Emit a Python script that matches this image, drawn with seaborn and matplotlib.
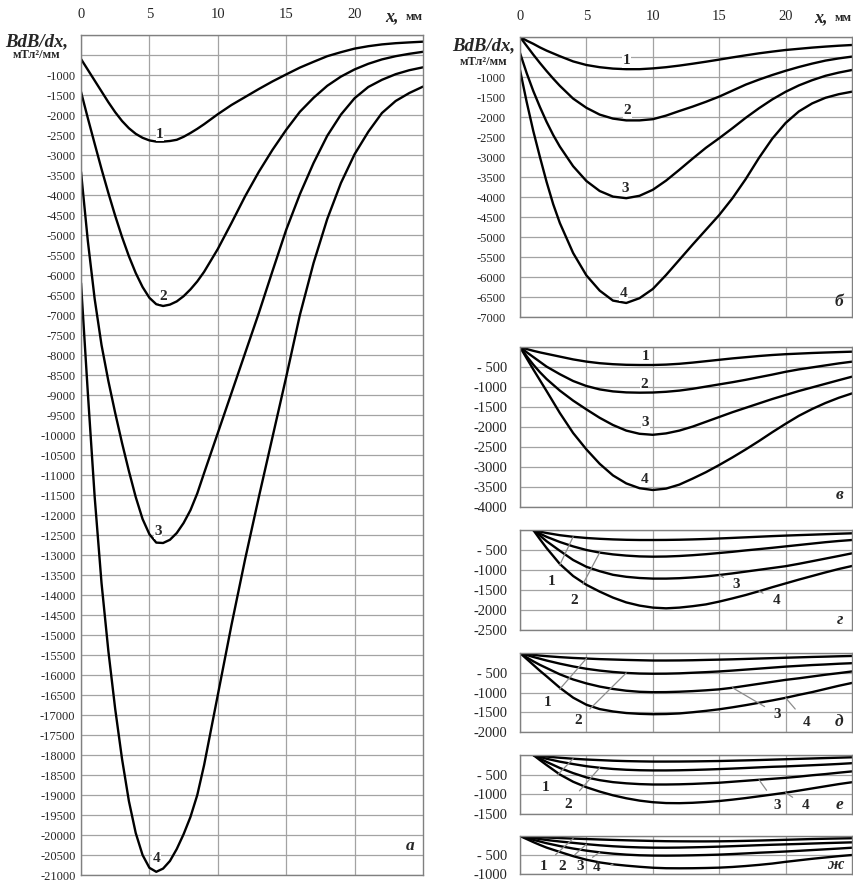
import numpy as np
import pandas as pd
import matplotlib.pyplot as plt
import seaborn as sns

W, H = 854, 882

# ---- panel а ----
x_a = [0, 0.5, 1, 1.5, 2, 2.5, 3, 3.5, 4, 4.5, 5, 5.5, 6, 6.5, 7, 7.5, 8, 8.5, 9,
       10, 11, 12, 13, 14, 15, 16, 17, 18, 19, 20, 21, 22, 23, 24, 25]
a1 = [-600, -870, -1140, -1410, -1680, -1930, -2150, -2330, -2470, -2570, -2635,
      -2665, -2665, -2650, -2620, -2545, -2450, -2345, -2230, -1980, -1750, -1550,
      -1350, -1160, -985, -815, -670, -530, -430, -340, -280, -235, -205, -185, -167]
a2 = [-1420, -2080, -2720, -3350, -3950, -4520, -5050, -5530, -5950, -6300, -6570,
      -6730, -6775, -6740, -6660, -6530, -6360, -6160, -5920, -5350, -4700, -4030,
      -3420, -2870, -2370, -1920, -1570, -1270, -1040, -860, -720, -610, -530, -470,
      -420]
a3 = [-3420, -5150, -6600, -7750, -8650, -9450, -10200, -10900, -11550, -12100,
      -12480, -12690, -12700, -12620, -12450, -12200, -11880, -11460, -10950, -9950,
      -8950, -7950, -6950, -5900, -4870, -3980, -3200, -2520, -1990, -1580, -1300,
      -1120, -980, -880, -808]
a4 = [-6200, -8950, -11550, -13700, -15400, -16850, -18100, -19150, -19950, -20500,
      -20820, -20920, -20840, -20650, -20350, -19980, -19550, -19000, -18250, -16500,
      -14750, -13100, -11550, -10050, -8550, -7000, -5700, -4600, -3700, -2980,
      -2420, -1950, -1650, -1450, -1290]

# ---- panel б ----
x_b = [0, 0.5, 1, 1.5, 2, 2.5, 3, 4, 5, 6, 7, 8, 9, 10, 11, 12, 13, 14, 15,
       16, 17, 18, 19, 20, 21, 22, 23, 24, 25]
b1 = [0, -90, -170, -260, -340, -410, -480, -610, -700, -755, -790, -805, -805,
      -785, -755, -715, -668, -618, -565, -510, -458, -408, -365, -325, -295, -265,
      -240, -218, -200]
b2 = [0, -220, -440, -650, -850, -1040, -1220, -1540, -1770, -1940, -2040, -2085,
      -2085, -2055, -1965, -1850, -1740, -1620, -1490, -1340, -1190, -1065, -950,
      -845, -750, -665, -590, -535, -490]
b3 = [-400, -900, -1350, -1750, -2120, -2450, -2740, -3230, -3600, -3850, -3990,
      -4030, -3970, -3820, -3590, -3320, -3040, -2770, -2530, -2280, -2020, -1780,
      -1560, -1370, -1210, -1080, -970, -890, -825]
b4 = [-825, -1620, -2350, -3000, -3620, -4180, -4650, -5400, -5960, -6340, -6590,
      -6650, -6530, -6300, -5950, -5570, -5190, -4820, -4450, -4030, -3550, -3020,
      -2540, -2150, -1860, -1660, -1520, -1430, -1367]

# ---- panels в, д, ж share this x grid ----
x_v = [0, 0.5, 1, 1.5, 2, 3, 4, 5, 6, 7, 8, 9, 10, 11, 12, 13, 14, 15, 16, 17,
       18, 19, 20, 21, 22, 23, 24, 25]
v1 = [0, -50, -95, -135, -170, -240, -310, -365, -405, -430, -445, -450, -450,
      -440, -420, -390, -355, -320, -285, -255, -225, -200, -180, -165, -150, -138,
      -127, -117]
v2 = [0, -130, -250, -370, -490, -680, -850, -975, -1060, -1110, -1135, -1142,
      -1138, -1120, -1090, -1045, -990, -935, -880, -820, -755, -690, -620, -560,
      -510, -460, -410, -367]
v3 = [0, -230, -440, -630, -800, -1090, -1340, -1560, -1770, -1950, -2090, -2170,
      -2195, -2160, -2090, -1990, -1870, -1750, -1630, -1520, -1410, -1300, -1200,
      -1100, -1010, -920, -830, -742]
v4 = [0, -280, -560, -830, -1100, -1650, -2150, -2560, -2920, -3210, -3410, -3530,
      -3575, -3540, -3440, -3290, -3130, -2950, -2760, -2560, -2350, -2130, -1920,
      -1720, -1550, -1400, -1270, -1160]

# ---- panels г, е start at x = 1 ----
x_g = [1, 1.5, 2, 3, 4, 5, 6, 7, 8, 9, 10, 11, 12, 13, 14, 15, 16, 17, 18, 19,
       20, 21, 22, 23, 24, 25]
g1 = [0, -40, -75, -130, -170, -200, -220, -235, -245, -250, -250, -248, -243,
      -235, -225, -212, -198, -183, -168, -153, -140, -128, -117, -105, -93, -83]
g2 = [0, -90, -170, -300, -410, -500, -565, -610, -640, -660, -667, -663, -650,
      -630, -605, -575, -545, -510, -478, -445, -410, -375, -340, -305, -275, -250]
g3 = [0, -140, -280, -520, -750, -920, -1030, -1120, -1170, -1200, -1215, -1215,
      -1205, -1185, -1160, -1125, -1085, -1040, -995, -950, -905, -845, -780, -715,
      -650, -583]
g4 = [0, -230, -450, -850, -1150, -1370, -1540, -1690, -1810, -1890, -1940, -1958,
      -1940, -1905, -1860, -1790, -1710, -1625, -1530, -1430, -1335, -1240, -1150,
      -1060, -975, -900]

d1 = [0, -25, -45, -65, -80, -105, -125, -140, -155, -165, -175, -183, -190, -190,
      -188, -183, -175, -168, -160, -150, -140, -130, -120, -110, -100, -92, -83, -75]
d2 = [0, -50, -100, -145, -190, -270, -340, -400, -445, -480, -505, -520, -525,
      -523, -515, -500, -485, -467, -445, -420, -395, -370, -345, -325, -305, -290,
      -272, -258]
d3 = [0, -110, -210, -300, -380, -540, -670, -770, -850, -910, -955, -982, -992,
      -990, -980, -965, -945, -920, -880, -830, -780, -730, -680, -640, -595, -550,
      -510, -467]
d4 = [0, -150, -300, -450, -590, -880, -1130, -1310, -1420, -1480, -1520, -1540,
      -1550, -1545, -1530, -1500, -1465, -1425, -1375, -1320, -1260, -1200, -1135,
      -1060, -990, -910, -830, -758]

e1 = [0, -20, -40, -70, -95, -115, -130, -145, -155, -162, -167, -167, -166, -163,
      -158, -153, -145, -137, -128, -118, -108, -98, -88, -78, -68, -58]
e2 = [0, -50, -95, -170, -230, -285, -325, -355, -375, -387, -392, -392, -388,
      -380, -370, -358, -345, -330, -315, -300, -290, -275, -260, -245, -228, -208]
e3 = [0, -90, -175, -330, -460, -570, -640, -690, -720, -740, -750, -750, -745,
      -735, -720, -705, -680, -655, -630, -605, -580, -550, -515, -485, -450, -417]
e4 = [0, -130, -255, -495, -680, -820, -930, -1025, -1100, -1160, -1200, -1222,
      -1225, -1215, -1195, -1170, -1135, -1095, -1050, -1005, -958, -905, -850,
      -795, -740, -692]

zh1 = [0, -12, -22, -32, -40, -55, -68, -80, -92, -103, -113, -122, -130, -137,
       -140, -142, -142, -140, -135, -128, -120, -110, -100, -90, -80, -72, -65, -58]
zh2 = [0, -30, -55, -80, -105, -145, -180, -215, -245, -270, -288, -300, -307,
       -308, -305, -298, -290, -280, -268, -255, -242, -230, -220, -210, -198, -187,
       -177, -167]
zh3 = [0, -50, -100, -145, -190, -265, -330, -385, -430, -465, -490, -507, -515,
       -517, -514, -508, -500, -490, -475, -458, -440, -425, -408, -390, -370, -350,
       -330, -308]
zh4 = [0, -80, -160, -235, -305, -420, -530, -625, -695, -745, -780, -810, -835,
       -848, -850, -848, -842, -833, -815, -790, -760, -725, -680, -640, -600, -565,
       -530, -500]

curve_names = ['1', '2', '3', '4']
x_ticks = [0, 5, 10, 15, 20]

sns.set_style('white')
plt.rcParams['font.family'] = ['Liberation Serif', 'DejaVu Serif']

GRID = '#a3a3a3'
SPINE = '#808080'


def px_box(left, top, right, bottom):
    return [left / W, 1 - bottom / H, (right - left) / W, (bottom - top) / H]


def draw_panel(ax, x, curves, ymin, letter, top_labels=False, skip500=False,
               ysize=10.5, ypad=9):
    df = pd.DataFrame({
        'x': np.tile(x, len(curves)),
        'v': np.concatenate(curves),
        'curve': np.repeat(curve_names, len(x)),
    })
    sns.lineplot(data=df, x='x', y='v', hue='curve', palette=['black'] * 4,
                 estimator=None, sort=False, legend=False, linewidth=1.7, ax=ax)
    ax.set_xlim(0, 25)
    ax.set_ylim(ymin, 0)
    yt = np.arange(ymin, 1, 500)
    labels = []
    for v in yt:
        if v == 0 or (v == -500 and skip500):
            labels.append('')
        elif v == -500:
            labels.append('- 500')
        else:
            labels.append(str(int(v)))
    ax.set_yticks(yt)
    ax.set_yticklabels(labels, fontsize=ysize)
    ax.set_xticks(x_ticks)
    ax.grid(True, color=GRID, linewidth=0.9)
    ax.set_axisbelow(True)
    for s in ax.spines.values():
        s.set_color(SPINE)
        s.set_linewidth(1.0)
    ax.set_xlabel('')
    ax.set_ylabel('')
    ax.tick_params(length=0, pad=ypad, axis='y')
    if top_labels:
        ax.xaxis.set_ticks_position('top')
        ax.tick_params(axis='x', length=0, pad=10, labeltop=True,
                       labelbottom=False, labelsize=10.5)
        ax.set_xticklabels([str(t) for t in x_ticks])
    else:
        ax.tick_params(axis='x', length=0, labelbottom=False)
    ax.text(0.975, 0.025, letter, transform=ax.transAxes, ha='right',
            va='bottom', fontsize=12.5, fontweight='bold', fontstyle='italic')


def min_labels(ax, spots):
    for name, (lx, ly) in zip(curve_names, spots):
        ax.text(lx, ly, name, ha='center', va='center', fontsize=11,
                fontweight='bold',
                bbox=dict(facecolor='white', edgecolor='none', pad=0.3))


def leader_labels(ax, x, curves, spots, targets):
    for name, curve, (lx, ly), tx in zip(curve_names, curves, spots, targets):
        ty = curve[x.index(tx)]
        ax.annotate(name, xy=(tx, ty), xytext=(lx, ly), ha='center',
                    va='center', fontsize=11, fontweight='bold',
                    arrowprops=dict(arrowstyle='-', color='#8c8c8c', lw=0.9,
                                    shrinkA=5, shrinkB=0))


fig = plt.figure(figsize=(W / 100, H / 100), dpi=100)

ax_a = fig.add_axes(px_box(81, 35, 423, 875))
draw_panel(ax_a, x_a, [a1, a2, a3, a4], -21000, 'а', top_labels=True,
           skip500=True, ysize=9, ypad=4)
min_labels(ax_a, [(5.77, -2480), (6.0, -6540), (5.64, -12420), (5.52, -20600)])

ax_b = fig.add_axes(px_box(520, 37, 852, 317))
draw_panel(ax_b, x_b, [b1, b2, b3, b4], -7000, 'б', top_labels=True,
           skip500=True, ysize=9, ypad=10)
min_labels(ax_b, [(8.0, -600), (8.1, -1850), (7.9, -3800), (7.8, -6420)])

ax_v = fig.add_axes(px_box(520, 347, 852, 507))
draw_panel(ax_v, x_v, [v1, v2, v3, v4], -4000, 'в')
min_labels(ax_v, [(9.45, -235), (9.35, -930), (9.45, -1900), (9.35, -3320)])

ax_g = fig.add_axes(px_box(520, 530, 852, 630))
draw_panel(ax_g, x_g, [g1, g2, g3, g4], -2500, 'г')
leader_labels(ax_g, x_g, [g1, g2, g3, g4],
              [(2.4, -1290), (4.1, -1750), (16.3, -1375), (19.3, -1750)],
              [4, 6, 15, 18])

ax_d = fig.add_axes(px_box(520, 653, 852, 732))
draw_panel(ax_d, x_v, [d1, d2, d3, d4], -2000, 'д')
leader_labels(ax_d, x_v, [d1, d2, d3, d4],
              [(2.1, -1260), (4.35, -1720), (19.4, -1550), (21.6, -1760)],
              [5, 8, 16, 20])

ax_e = fig.add_axes(px_box(520, 755, 852, 814))
draw_panel(ax_e, x_g, [e1, e2, e3, e4], -1500, 'е')
leader_labels(ax_e, x_g, [e1, e2, e3, e4],
              [(1.9, -830), (3.6, -1250), (19.4, -1290), (21.5, -1290)],
              [4, 6, 18, 20])

ax_zh = fig.add_axes(px_box(520, 836, 852, 874))
draw_panel(ax_zh, x_v, [zh1, zh2, zh3, zh4], -1000, 'ж')
leader_labels(ax_zh, x_v, [zh1, zh2, zh3, zh4],
              [(1.75, -790), (3.2, -790), (4.5, -790), (5.8, -830)],
              [4, 5, 6, 7])

# axis captions
for cx, cy1, cy2 in [(37, 42, 55), (484, 46, 62)]:
    fig.text(cx / W, 1 - cy1 / H, 'BdB/dx,', ha='center', va='center',
             fontsize=13.5, fontweight='bold', fontstyle='italic')
    fig.text(cx / W, 1 - cy2 / H, 'мТл²/мм', ha='center', va='center',
             fontsize=9, fontweight='bold')
for rx, cy in [(423, 17), (852, 18)]:
    fig.text(rx / W, 1 - cy / H, 'мм', ha='right', va='center',
             fontsize=9, fontweight='bold')
    fig.text((rx - 24) / W, 1 - cy / H, 'x,', ha='right', va='center',
             fontsize=13, fontweight='bold', fontstyle='italic')

fig.savefig('out.png', dpi=100, facecolor='white')
